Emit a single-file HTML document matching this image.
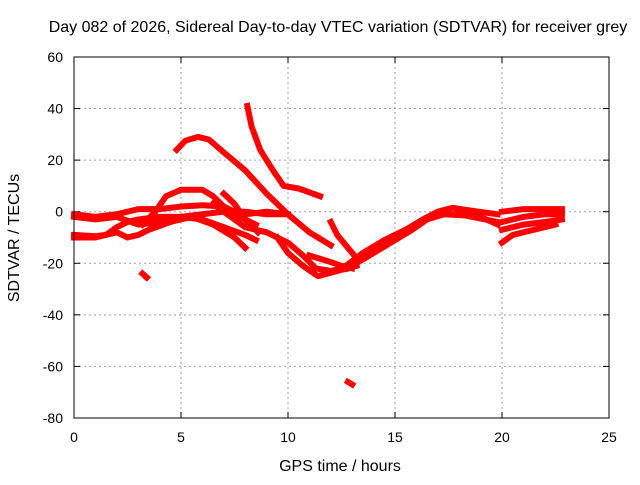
<!DOCTYPE html>
<html><head><meta charset="utf-8"><style>
body{margin:0;background:#fff;}
svg text{font-family:"Liberation Sans",sans-serif;font-size:14px;fill:#000;}
svg text.big{font-size:16px;}
</style></head><body>
<svg id="chart" width="640" height="480">
<text class="big" x="338" y="32" text-anchor="middle">Day 082 of 2026, Sidereal Day-to-day VTEC variation (SDTVAR) for receiver grey</text>
<text class="big" x="340" y="471" text-anchor="middle">GPS time / hours</text>
<text class="big" transform="translate(19,238) rotate(-90)" text-anchor="middle">SDTVAR / TECUs</text>
<g id="grid"></g><g id="ticks"></g><g id="series"></g>
<rect x="74" y="57" width="535" height="361" fill="none" stroke="#000" stroke-width="1"/>
</svg>
<script>
const xTicks=[0,5,10,15,20,25];
const yTicks=[-80,-60,-40,-20,0,20,40,60];
const tracks=[
[[0,-1],[1,-2],[2,-1],[2.5,0],[3,1],[4,1],[5,2],[6,2.5],[7,2],[7.5,0],[8,-1],[9,0],[10,-1]],
[[0,-9],[1,-9.5],[1.5,-9],[2,-6],[2.5,-4],[3,-3],[4,-2],[5,-2],[6,-1],[7,0],[8,0],[9,-1],[9.8,-1]],
[[0,-2],[1,-3],[2,-2],[3,-5],[4,-4],[5,-2],[6,-3],[7,-6],[8,-9],[8.5,-11]],
[[3.2,-5],[3.8,0],[4.3,6],[5,8.5],[6,8.5],[6.5,6],[7,2],[8,-3],[8.5,-5]],
[[0,-10],[1,-10],[2,-8],[2.5,-10],[3,-9],[3.5,-7],[4.5,-4],[5.5,-2],[6.5,-5],[7.5,-10],[8,-14]],
[[6.5,3],[7.5,-3],[8,-6],[9,-8],[10,-12],[10.7,-17],[11.3,-22],[12,-23],[13,-21]],
[[7,7],[7.5,3],[8,-3],[8.6,-8]],
[[4.8,24],[5.2,27.5],[5.8,29],[6.3,28],[7,23],[8,16],[9,7],[10,-1],[11,-8],[12,-13]],
[[8.1,41],[8.3,33],[8.7,24],[9.3,16],[9.8,10],[10.5,9],[11,7.5],[11.5,6]],
[[9.5,-10],[10,-16],[10.7,-21],[11.4,-25],[12.3,-23],[13.2,-21]],
[[12,-4],[12.3,-9],[12.8,-14],[13.3,-19]],
[[11,-17],[11.8,-19],[12.5,-21],[13,-22]],
[[12.7,-21],[13.5,-16],[14.5,-11],[15.5,-7],[16.3,-3],[17,0],[17.7,1.5],[18.5,0.5],[19.8,-1]],
[[12.8,-22],[13.8,-17],[14.8,-12],[15.8,-7],[16.5,-3],[17.3,-1],[18.3,-1.5],[19.8,-4]],
[[13,-20],[14,-15],[15,-10],[16,-5],[17,-1],[18,-1],[19,-2],[19.8,-5]],
[[20,0],[21,1],[22,1],[22.8,1]],
[[20,-4],[21,-2],[22,-1],[22.8,-1]],
[[20,-7],[21,-5],[22,-4],[22.8,-3]],
[[20,-12],[20.5,-9],[21.5,-7],[22.5,-5]],
[[3.2,-24],[3.4,-25.5]],
[[12.8,-66],[13,-67]]
];
const xs=h=>74+h*21.4, ys=v=>211.7-v*2.5786;
const NS="http://www.w3.org/2000/svg";
const grid=document.getElementById('grid'),tk=document.getElementById('ticks'),ser=document.getElementById('series');
function mk(tag,attrs,parent){const e=document.createElementNS(NS,tag);for(const k in attrs)e.setAttribute(k,attrs[k]);parent.appendChild(e);return e;}
xTicks.forEach(t=>{const x=xs(t);
 if(t>0&&t<25){const l=mk('line',{x1:x,x2:x,y1:57,y2:418,stroke:'#a0a0a0','stroke-dasharray':'2,3'},grid);
 
 }
 const a=mk('line',{x1:x,x2:x,y1:418,y2:412,stroke:'#000'},tk);
 const b=mk('line',{x1:x,x2:x,y1:57,y2:63,stroke:'#000'},tk);
 const s=mk('text',{x:x,y:442,'text-anchor':'middle'},tk);s.textContent=t;
 
 });
yTicks.forEach(t=>{const y=ys(t);
 if(t>-80&&t<60){const l=mk('line',{x1:74,x2:609,y1:y,y2:y,stroke:'#a0a0a0','stroke-dasharray':'2,3'},grid);
 
 }
 const a=mk('line',{x1:74,x2:80,y1:y,y2:y,stroke:'#000'},tk);
 const b=mk('line',{x1:603,x2:609,y1:y,y2:y,stroke:'#000'},tk);
 const s=mk('text',{x:63,y:y+5,'text-anchor':'end'},tk);s.textContent=t;
 
 });
tracks.forEach(tr=>{
 const p=mk('polyline',{points:tr.map(d=>xs(d[0])+','+ys(d[1])).join(' '),fill:'none',stroke:'#ff0000','stroke-width':6,'stroke-linejoin':'round','stroke-linecap':'square'},ser);
 
 
});
</script>
</body></html>
